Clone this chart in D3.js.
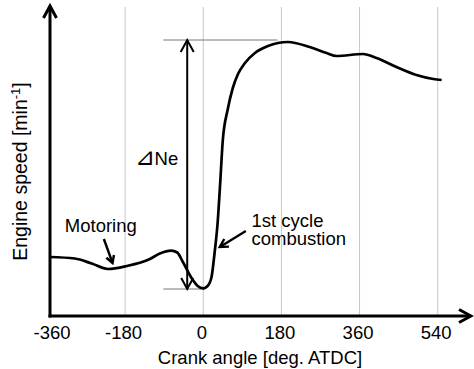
<!DOCTYPE html>
<html>
<head>
<meta charset="utf-8">
<script src="https://cdn.jsdelivr.net/npm/d3@7"></script>
<style>
  body { margin: 0; background: #fff; }
  text { font-family: "Liberation Sans", Arial, sans-serif; fill: #000; }
</style>
</head>
<body>
<svg id="chart"></svg>
<script>
// crank angle [deg ATDC] vs engine speed (relative, no y ticks in the original)
const angles = [-354, -296, -257, -220, -176, -123, -100, -74, -60, -47, -24, -13, 0, 10, 19, 26, 33, 38, 45, 56, 68, 80, 96, 119, 149, 195, 245, 284, 307, 368, 399, 445, 491, 530, 549];
const speeds = [59, 57.5, 52.5, 47, 50, 57, 62.5, 65.3, 63.5, 54, 36, 30, 27.7, 30, 39, 63, 93, 126, 176, 206, 228, 242, 253, 263, 270, 274, 269, 263, 260, 262, 258, 249, 241, 237, 236];

const xTicks = [-360, -180, 0, 180, 360, 540];

// annotations in data units
const deltaNe = { angle: -37, top: 276, bottom: 27, lineFrom: -92, topTo: 171, bottomTo: 4 };
const motoringArrow = [[-229, 77], [-209, 53]];
const combustionArrow = [[98, 85], [38, 69]];

let width = 474;
let height = 369;

let svg = d3.select("#chart").attr("width", width).attr("height", height);

let xScale = d3.scaleLinear().domain([-360, 540]).range([47, 437.7]);
let yScale = d3.scaleLinear().domain([0, 300]).range([316, 16]);

let axisX = 50;
let axisY = 316;

// grid lines
svg.append("g")
  .selectAll("line")
  .data(xTicks.slice(1))
  .join("line")
  .attr("x1", d => xScale(d))
  .attr("x2", d => xScale(d))
  .attr("y1", 7)
  .attr("y2", axisY)
  .attr("stroke", "#c8c8c8")
  .attr("stroke-width", 1);

// tick labels
svg.append("g")
  .selectAll("text")
  .data(xTicks)
  .join("text")
  .attr("x", d => (d == -360 ? axisX + 2 : xScale(d) - 1.5))
  .attr("y", 338.5)
  .attr("text-anchor", "middle")
  .style("font-size", "18.5px")
  .text(d => d);

// ΔNe reference lines
svg.append("line")
  .attr("x1", xScale(deltaNe.lineFrom)).attr("x2", xScale(deltaNe.topTo))
  .attr("y1", yScale(deltaNe.top)).attr("y2", yScale(deltaNe.top))
  .attr("stroke", "#777").attr("stroke-width", 1);
svg.append("line")
  .attr("x1", xScale(deltaNe.lineFrom)).attr("x2", xScale(deltaNe.bottomTo))
  .attr("y1", yScale(deltaNe.bottom)).attr("y2", yScale(deltaNe.bottom))
  .attr("stroke", "#777").attr("stroke-width", 1);

function arrowHead(g, x1, y1, x2, y2, len, half, sw) {
  let a = Math.atan2(y2 - y1, x2 - x1);
  let bx = x2 - len * Math.cos(a), by = y2 - len * Math.sin(a);
  let px = -Math.sin(a) * half, py = Math.cos(a) * half;
  g.append("path")
    .attr("d", `M${bx + px},${by + py}L${x2},${y2}L${bx - px},${by - py}`)
    .attr("fill", "none")
    .attr("stroke", "#000")
    .attr("stroke-width", sw)
    .attr("stroke-linejoin", "miter");
}

function arrow(g, x1, y1, x2, y2, len, half, sw) {
  g.append("line")
    .attr("x1", x1).attr("y1", y1).attr("x2", x2).attr("y2", y2)
    .attr("stroke", "#000").attr("stroke-width", sw);
  arrowHead(g, x1, y1, x2, y2, len, half, sw);
}

// the curve
svg.append("path")
  .datum(angles.map((a, i) => ({ a: a, v: speeds[i] })))
  .attr("fill", "none")
  .attr("stroke", "#000")
  .attr("stroke-width", 2.7)
  .attr("stroke-linejoin", "round")
  .attr("d", d3.line()
    .curve(d3.curveMonotoneX)
    .x(d => xScale(d.a))
    .y(d => yScale(d.v)));

let ann = svg.append("g");

// double arrow ΔNe
let dx = xScale(deltaNe.angle);
arrow(ann, dx, yScale(deltaNe.bottom), dx, yScale(deltaNe.top), 12, 6.5, 2);
arrowHead(ann, dx, yScale(deltaNe.top), dx, yScale(deltaNe.bottom), 11, 6, 2);

let ne = ann.append("text")
  .attr("x", xScale(deltaNe.angle) - 9)
  .attr("y", 165)
  .attr("text-anchor", "end")
  .style("font-size", "18.5px");
ne.append("tspan").style("font-size", "24px").text("⊿");
ne.append("tspan").text("Ne");

// Motoring
arrow(ann, xScale(motoringArrow[0][0]), yScale(motoringArrow[0][1]),
  xScale(motoringArrow[1][0]), yScale(motoringArrow[1][1]), 7, 4, 2.4);
ann.append("text")
  .attr("x", xScale(-236))
  .attr("y", 232)
  .attr("text-anchor", "middle")
  .style("font-size", "18.5px")
  .text("Motoring");

// 1st cycle combustion
arrow(ann, xScale(combustionArrow[0][0]), yScale(combustionArrow[0][1]),
  xScale(combustionArrow[1][0]), yScale(combustionArrow[1][1]), 8, 4.5, 2.4);
let ct = ann.append("text")
  .attr("y", 227)
  .style("font-size", "18.5px");
ct.append("tspan").attr("x", xScale(111)).text("1st cycle");
ct.append("tspan").attr("x", xScale(111)).attr("dy", 18).text("combustion");

// axes with arrows
let axes = svg.append("g");
axes.append("line")
  .attr("x1", axisX).attr("y1", axisY + 1.5).attr("x2", axisX).attr("y2", 6)
  .attr("stroke", "#000").attr("stroke-width", 3);
arrowHead(axes, axisX, axisY, axisX, 6, 12, 6.5, 3);
axes.append("line")
  .attr("x1", axisX - 1.5).attr("y1", axisY).attr("x2", 471).attr("y2", axisY)
  .attr("stroke", "#000").attr("stroke-width", 3);
arrowHead(axes, axisX, axisY, 471, axisY, 12, 6.5, 3);

// axis titles
svg.append("text")
  .attr("x", 260)
  .attr("y", 364)
  .attr("text-anchor", "middle")
  .style("font-size", "18.5px")
  .text("Crank angle [deg. ATDC]");

let yt = svg.append("text")
  .attr("transform", "translate(27,171.5) rotate(-90)")
  .attr("text-anchor", "middle")
  .style("font-size", "19.5px");
yt.append("tspan").text("Engine speed [min");
yt.append("tspan").attr("dy", -7).style("font-size", "13px").text("-1");
yt.append("tspan").attr("dy", 7).text("]");
</script>
</body>
</html>
